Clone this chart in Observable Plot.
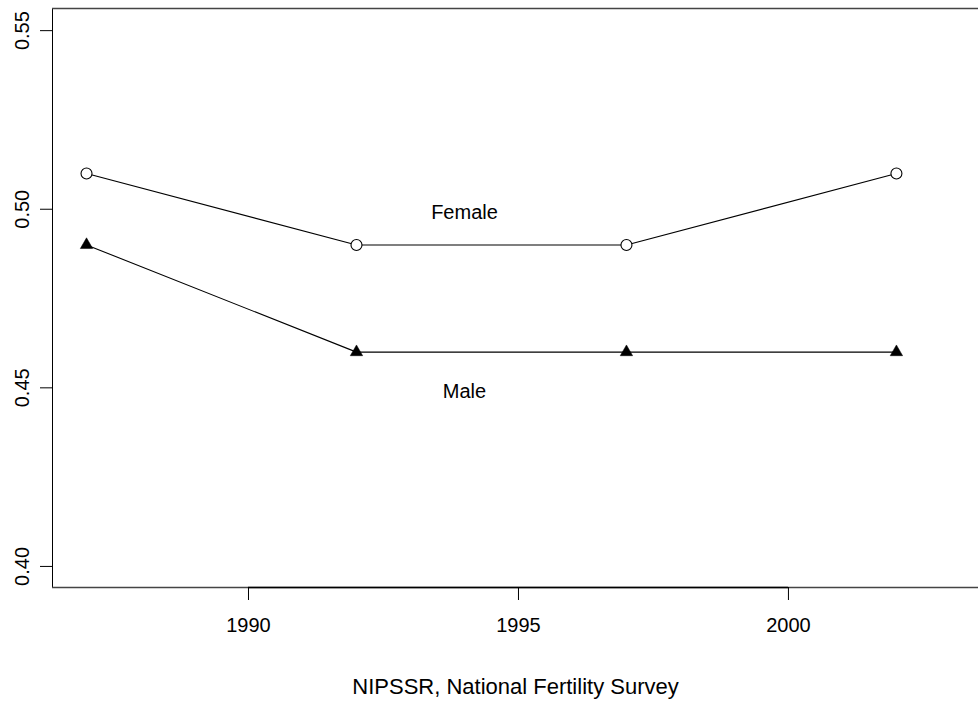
<!DOCTYPE html>
<html>
<head>
<meta charset="utf-8">
<script src="https://cdn.jsdelivr.net/npm/d3@7"></script>
<script src="https://cdn.jsdelivr.net/npm/@observablehq/plot@0.6"></script>
<style>
  html, body { margin: 0; padding: 0; background: #fff; }
  svg { display: block; }
</style>
</head>
<body>
<div id="chart"></div>
<script>
const years = [1987, 1992, 1997, 2002];
const female = [0.51, 0.49, 0.49, 0.51];
const male = [0.49, 0.46, 0.46, 0.46];
const xTicks = [1990, 1995, 2000];
const yTicks = [0.40, 0.45, 0.50, 0.55];
const yTickLabels = ["0.40", "0.45", "0.50", "0.55"];
const seriesLabels = [
  {x: 1994, y: 0.499, text: "Female"},
  {x: 1994, y: 0.449, text: "Male"}
];
const caption = "NIPSSR, National Fertility Survey";
const xDomain = [1986.37, 2003.52];
const yDomain = [0.3941, 0.5562];

const femaleData = years.map((y, i) => ({year: y, value: female[i]}));
const maleData = years.map((y, i) => ({year: y, value: male[i]}));
const yTickData = yTicks.map((v, i) => ({v, label: yTickLabels[i]}));

const font = "'Liberation Sans', Arial, sans-serif";

const chart = Plot.plot({
  width: 978,
  height: 711,
  marginLeft: 52,
  marginRight: 0,
  marginTop: 8,
  marginBottom: 124,
  style: {fontFamily: font, fontSize: "20px", color: "#000", background: "#fff"},
  x: {domain: xDomain},
  y: {domain: yDomain},
  marks: [
    // box (left, top, bottom)
    Plot.ruleX([xDomain[0]], {stroke: "#000", strokeWidth: 1}),
    Plot.ruleY([yDomain[1]], {stroke: "#444", strokeWidth: 1.3}),
    Plot.ruleY([yDomain[0]], {stroke: "#444", strokeWidth: 1.3}),
    // x axis line between first and last tick
    Plot.ruleY([yDomain[0]], {x1: xTicks[0], x2: xTicks[xTicks.length - 1], stroke: "#000", strokeWidth: 1.5}),
    Plot.axisX({ticks: xTicks, tickSize: 13, tickPadding: 17, tickFormat: d => String(d), label: null, fontSize: 20, stroke: "#000"}),
    Plot.axisY({ticks: yTicks, tickSize: 12, tickFormat: () => "", label: null}),
    Plot.text(yTickData, {y: "v", text: "label", frameAnchor: "left", textAnchor: "middle", lineAnchor: "middle", dx: -30, rotate: -90, fontSize: 20, fill: "#000"}),
    // series
    Plot.line(femaleData, {x: "year", y: "value", stroke: "#000", strokeWidth: 1.1}),
    Plot.line(maleData, {x: "year", y: "value", stroke: "#000", strokeWidth: 1.1}),
    Plot.dot(femaleData, {x: "year", y: "value", symbol: "circle", r: 5.5, stroke: "#000", fill: "#fff", strokeWidth: 1.1}),
    Plot.dot(maleData, {x: "year", y: "value", symbol: "triangle", r: 4.6, fill: "#000", stroke: "#000", strokeWidth: 0.5}),
    Plot.text(seriesLabels, {x: "x", y: "y", text: "text", fontSize: 20, fill: "#000"}),
    Plot.text([caption], {frameAnchor: "bottom", dy: 106, fontSize: 22, fill: "#000"})
  ]
});
document.getElementById("chart").appendChild(chart);
</script>
</body>
</html>
